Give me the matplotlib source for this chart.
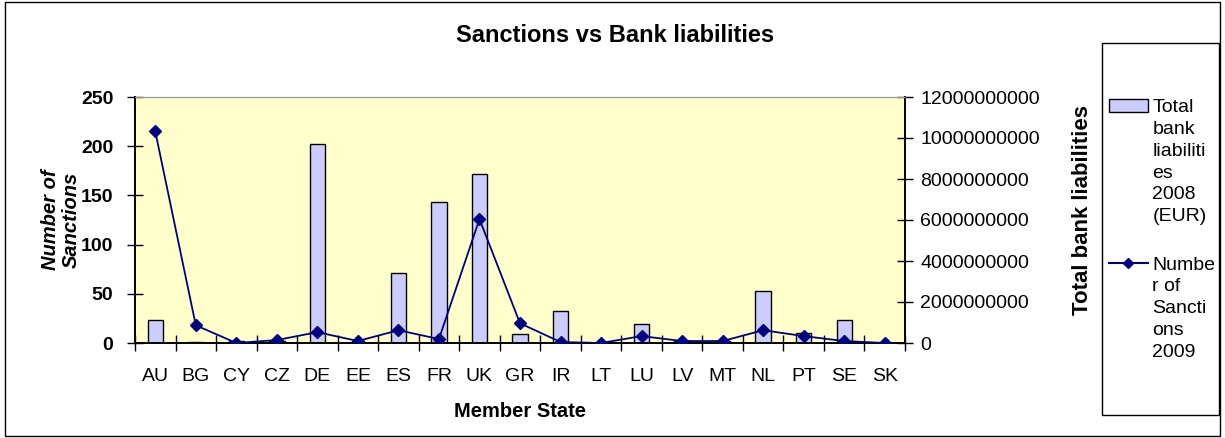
import numpy as np
import matplotlib.pyplot as plt
from matplotlib.patches import Patch, Rectangle
from matplotlib.lines import Line2D

plt.rcParams['font.family'] = ['Liberation Sans', 'DejaVu Sans']

# Данные
states = ['AU', 'BG', 'CY', 'CZ', 'DE', 'EE', 'ES', 'FR', 'UK', 'GR',
          'IR', 'LT', 'LU', 'LV', 'MT', 'NL', 'PT', 'SE', 'SK']
sanctions = [215, 18, 0, 3, 11, 2, 13, 4, 126, 20,
             1, 0, 7, 2, 2, 13, 7, 2, 0]
liabilities = [1.12e9, 0.06e9, 0.1e9, 0.1e9, 9.71e9, 0.05e9, 3.43e9, 6.87e9, 8.23e9, 0.42e9,
               1.55e9, 0.02e9, 0.94e9, 0.1e9, 0.1e9, 2.54e9, 0.47e9, 1.12e9, 0.02e9]

x = np.arange(len(states))
W, H = 1225, 438

fig = plt.figure(figsize=(12.25, 4.38), dpi=100)
# рамка всей диаграммы
fig.patches.append(Rectangle((0.004, 0.005), 0.992, 0.99, transform=fig.transFigure,
                             fill=False, edgecolor='black', linewidth=1))

ax = fig.add_axes([135 / W, 1 - 343 / H, 770 / W, 246 / H])
ax2 = ax.twinx()

ax2.bar(x, liabilities, width=0.38, color='#CCCCFF', edgecolor='black', linewidth=1, zorder=2)
ax.plot(x, sanctions, color='#000080', marker='D', markersize=6.5, linewidth=1.3, zorder=3)
ax.patch.set_visible(False)
ax2.patch.set_visible(True)
ax2.patch.set_facecolor('#FFFFCC')
ax.set_zorder(3)
ax2.set_zorder(2)

ax.set_xlim(-0.5, len(states) - 0.5)
ax.set_ylim(0, 250)
ax2.set_ylim(0, 12e9)
ax.set_yticks(np.arange(0, 251, 50))
ax2.set_yticks(np.arange(0, 12e9 + 1, 2e9))
ax2.set_yticklabels([str(int(v)) for v in np.arange(0, 12e9 + 1, 2e9)], fontsize=14)
ax.set_yticklabels([str(v) for v in range(0, 251, 50)], fontsize=14, fontweight='bold')

ax.set_xticks(x)
ax.set_xticklabels(states, fontsize=14)
ax.tick_params(axis='x', length=0, pad=18)
ax.set_xticks(np.arange(-0.5, len(states), 1), minor=True)
ax.tick_params(axis='x', which='minor', length=11, direction='inout', width=1)
ax.tick_params(axis='y', length=11, direction='inout', width=1, pad=10)
ax2.tick_params(axis='y', length=12, direction='inout', width=1, pad=5)

for a in (ax, ax2):
    a.spines['top'].set_color('#999999')
    a.spines['left'].set_linewidth(1.2)
    a.spines['right'].set_linewidth(1.2)
    a.spines['bottom'].set_linewidth(1.2)

fig.text(615 / W, 1 - 35 / H, 'Sanctions vs Bank liabilities', fontsize=17, fontweight='bold',
         ha='center', va='center')
ax.set_xlabel('Member State', fontsize=14.5, fontweight='bold', labelpad=12)
ax.set_ylabel('Number of\nSanctions', fontsize=14.5, fontweight='bold', style='italic',
              labelpad=0, linespacing=1.1)
ax2.set_ylabel('Total bank liabilities', fontsize=16, fontweight='bold', labelpad=20)
ax2.yaxis.set_label_coords(1.217, 0.54)

# легенда
fig.patches.append(Rectangle((1102 / W, 1 - 415 / H), 117 / W, 372 / H,
                             transform=fig.transFigure, fill=False, edgecolor='black', linewidth=1))
handles = [Patch(facecolor='#CCCCFF', edgecolor='black'),
           Line2D([], [], color='#000080', marker='D', markersize=5.5)]
labels = ['Total\nbank\nliabiliti\nes\n2008\n(EUR)', 'Numbe\nr of\nSancti\nons\n2009']
leg = fig.legend(handles, labels, loc='upper left', bbox_to_anchor=(1099 / W, 1 - 89 / H),
                 frameon=False, fontsize=14, handlelength=2.0, handletextpad=0.25,
                 labelspacing=1.6, borderpad=0)
for t in leg.get_texts():
    t.set_linespacing(1.38)
for col in leg._legend_handle_box.get_children():
    for row in col.get_children():
        row.align = 'top'

fig.savefig('out.png', dpi=100)
